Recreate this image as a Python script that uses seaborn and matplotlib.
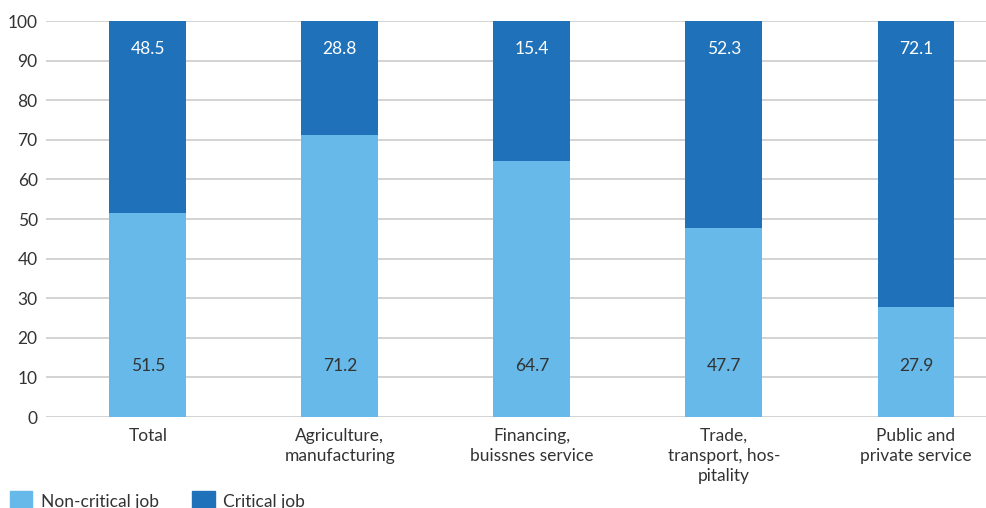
import numpy as np
import pandas as pd
import matplotlib.pyplot as plt
import matplotlib.patches as mpatches
import seaborn as sns

sectors = ['Total', 'Agriculture,\nmanufacturing', 'Financing,\nbuissnes service',
           'Trade,\ntransport, hos-\npitality', 'Public and\nprivate service']
non_critical = [51.5, 71.2, 64.7, 47.7, 27.9]
critical = [48.5, 28.8, 15.4, 52.3, 72.1]
bar_top = [100, 100, 100, 100, 100]

light = '#66B9E8'
dark = '#1F72BA'
text_col = '#333333'

sns.set_theme(style='white')
plt.rcParams['font.family'] = ['Lato', 'DejaVu Sans']

df = pd.DataFrame({'sector': sectors, 'non_critical': non_critical,
                   'critical': critical, 'top': bar_top})

fig = plt.figure(figsize=(9.86, 5.08), dpi=100)
ax = fig.add_axes([46 / 986, (508 - 417) / 508, 1 - 46 / 986, (417 - 21) / 508])

sns.barplot(data=df, x='sector', y='top', color=dark, width=0.4, ax=ax,
            saturation=1, zorder=2, linewidth=0)
sns.barplot(data=df, x='sector', y='non_critical', color=light, width=0.4, ax=ax,
            saturation=1, zorder=3, linewidth=0)

for i, (nc, c) in enumerate(zip(non_critical, critical)):
    ax.text(i, 13, f'{nc:.1f}', ha='center', va='center', fontsize=12.5,
            color=text_col, zorder=4)
    ax.text(i, 93, f'{c:.1f}', ha='center', va='center', fontsize=12.5,
            color='white', zorder=4)

ax.set_ylim(0, 100)
ax.set_xlim(-0.53, 4.365)
ax.set_yticks(np.arange(0, 101, 10))
ax.yaxis.grid(True, color='#CCCCCC', linewidth=1.2, zorder=0)
ax.set_axisbelow(True)
for s in ax.spines.values():
    s.set_visible(False)
ax.set_xlabel('')
ax.set_ylabel('')
ax.tick_params(axis='y', length=0, pad=6, labelsize=12.5, labelcolor=text_col)
ax.tick_params(axis='x', length=0, pad=8, labelsize=12.5, labelcolor=text_col)
for lbl in ax.get_xticklabels():
    lbl.set_linespacing(1.3)

handles = [mpatches.Patch(color=light, label='Non-critical job'),
           mpatches.Patch(color=dark, label='Critical job')]
fig.legend(handles=handles, loc='lower left', bbox_to_anchor=(-0.006, -0.035),
           ncol=2, frameon=False, fontsize=12.5, handlelength=1.3, handleheight=1.3,
           handletextpad=0.5, columnspacing=1.9, labelcolor=text_col)

fig.savefig('out.png', dpi=100)
